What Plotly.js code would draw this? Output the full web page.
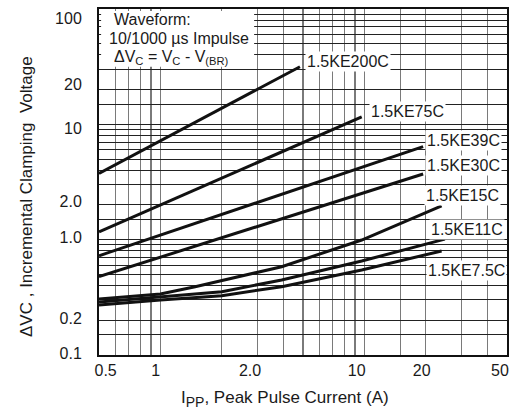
<!DOCTYPE html>
<html>
<head>
<meta charset="utf-8">
<script src="https://cdn.plot.ly/plotly-3.0.1.min.js"></script>
<style>html,body{margin:0;padding:0;background:#fff;}</style>
</head>
<body>
<div id="chart" style="width:517px;height:414px;"></div>
<script>
// ---- data (Ipp in A, delta Vc in V) ----
const seriesNames = ['1.5KE200C', '1.5KE75C', '1.5KE39C', '1.5KE30C', '1.5KE15C', '1.5KE11C', '1.5KE7.5C'];

const ipp200C = [0.5, 4.83];
const dvc200C = [3.76, 31.6];

const ipp75C = [0.5, 9.70];
const dvc75C = [1.17, 11.6];

const ipp39C = [0.5, 19.4];
const dvc39C = [0.726, 6.40];

const ipp30C = [0.5, 19.4];
const dvc30C = [0.478, 3.71];

const ipp15C = [0.5, 1.0, 1.48, 3.93, 9.70, 23.9];
const dvc15C = [0.306, 0.338, 0.391, 0.583, 0.993, 1.96];

const ipp11C = [0.5, 1.0, 2.0, 3.93, 9.70, 24.8];
const dvc11C = [0.288, 0.318, 0.354, 0.447, 0.653, 1.01];

const ipp7_5C = [0.5, 1.0, 2.0, 3.93, 9.70, 23.9];
const dvc7_5C = [0.271, 0.300, 0.327, 0.391, 0.546, 0.798];

// tick labels (placed where the reference prints them)
const xTickText = ['0.5', '1', '2.0', '10', '20', '50'];
const xTickVals = [0.539, 0.948, 2.75, 9.17, 19.1, 46.2];
const yTickText = ['0.1', '0.2', '1.0', '2.0', '10', '20', '100'];
const yTickVals = [0.104, 0.209, 1.05, 2.14, 9.3, 22.4, 83.6];

// grid lines
const xGridVals = [0.6, 0.7, 0.8, 0.9, 1, 2, 3, 4, 5, 6, 7, 8, 9, 10, 15, 20, 30, 40];
const yGridVals = [0.15, 0.2, 0.3, 0.4, 0.5, 0.6, 0.7, 0.8, 0.9, 1, 1.5, 2, 3, 4, 5, 6, 7, 8, 9, 10, 15, 20, 30, 40, 50, 60, 70, 80, 90];

const xTitle = 'I<sub><span style="font-size:14px">PP</span></sub>, Peak Pulse Current (A)';
const yTitle = '\u0394VC , Incremental Clamping\u00a0\u00a0Voltage';

const xs = [ipp200C, ipp75C, ipp39C, ipp30C, ipp15C, ipp11C, ipp7_5C];
const ys = [dvc200C, dvc75C, dvc39C, dvc30C, dvc15C, dvc11C, dvc7_5C];

const traces = seriesNames.map((n, i) => ({
  type: 'scatter', mode: 'lines', name: n,
  x: xs[i], y: ys[i],
  line: {color: '#111', width: 3},
  hoverinfo: 'skip'
}));

// layout helpers (pixel -> paper) for label placement
const W = 517, H = 414, ML = 99, MR = 10, MT = 9, MB = 59;
const PW = W - ML - MR, PH = H - MT - MB;
const px = v => (v - ML) / PW;
const py = v => (H - MB - v) / PH;

const FONT = 'Liberation Sans, Arial, sans-serif';
const labelFont = {family: FONT, size: 16, color: '#1a1a1a'};
const labelPos = [[305, 62], [369, 111], [425, 140], [425, 165], [424, 195], [429, 230], [426, 270]];
const annotations = seriesNames.map((n, i) => ({
  xref: 'paper', yref: 'paper', x: px(labelPos[i][0]), y: py(labelPos[i][1]),
  xanchor: 'left', yanchor: 'middle', text: n, showarrow: false,
  font: labelFont, bgcolor: '#ffffff', borderpad: 1
}));
const boxLines = [
  ['Waveform:', 112, 19],
  ['10/1000 \u00b5s Impulse', 107, 38.5],
  ['\u0394V<sub>C</sub> = V<sub>C</sub> - V<sub>(BR)</sub>', 112, 57]
];
boxLines.forEach(b => annotations.push({
  xref: 'paper', yref: 'paper', x: px(b[1]), y: py(b[2]),
  xanchor: 'left', yanchor: 'middle', text: b[0], showarrow: false, font: labelFont
}));
// axis titles
annotations.push({
  xref: 'paper', yref: 'paper', x: px(285), y: py(399),
  xanchor: 'center', yanchor: 'middle', text: xTitle, showarrow: false,
  font: {family: FONT, size: 17, color: '#1a1a1a'}
});
annotations.push({
  xref: 'paper', yref: 'paper', x: px(26), y: py(197),
  xanchor: 'center', yanchor: 'middle', textangle: -90, text: yTitle, showarrow: false,
  font: {family: FONT, size: 17, color: '#1a1a1a'}
});

const layout = {
  width: W, height: H,
  margin: {l: ML, r: MR, t: MT, b: MB, pad: 0},
  paper_bgcolor: '#fff', plot_bgcolor: '#fff',
  showlegend: false,
  font: {family: FONT, size: 16, color: '#1a1a1a'},
  xaxis: {
    type: 'log', range: [Math.log10(0.5), Math.log10(50)],
    tickmode: 'array', tickvals: xTickVals, ticktext: xTickText,
    ticks: '', ticklabelstandoff: 0, showgrid: false, zeroline: false,
    tickfont: {size: 16},
    showline: true, linecolor: '#111', linewidth: 2, mirror: true,
    minor: {tickmode: 'array', tickvals: xGridVals, showgrid: true, gridcolor: '#7a7a7a', gridwidth: 1.2, ticks: ''}
  },
  yaxis: {
    type: 'log', range: [-1, 2],
    tickmode: 'array', tickvals: yTickVals, ticktext: yTickText,
    ticks: '', ticklabelstandoff: 12, showgrid: false, zeroline: false,
    tickfont: {size: 16},
    showline: true, linecolor: '#111', linewidth: 2, mirror: true,
    minor: {tickmode: 'array', tickvals: yGridVals, showgrid: true, gridcolor: '#222', gridwidth: 1, ticks: ''}
  },
  shapes: [{
    type: 'rect', xref: 'x', yref: 'y', layer: 'above',
    x0: 0.512, x1: 2.88, y0: 31.5, y1: 96,
    fillcolor: '#ffffff', line: {width: 0}
  }],
  annotations: annotations
};

Plotly.newPlot('chart', traces, layout, {displayModeBar: false, staticPlot: true});
</script>
</body>
</html>
